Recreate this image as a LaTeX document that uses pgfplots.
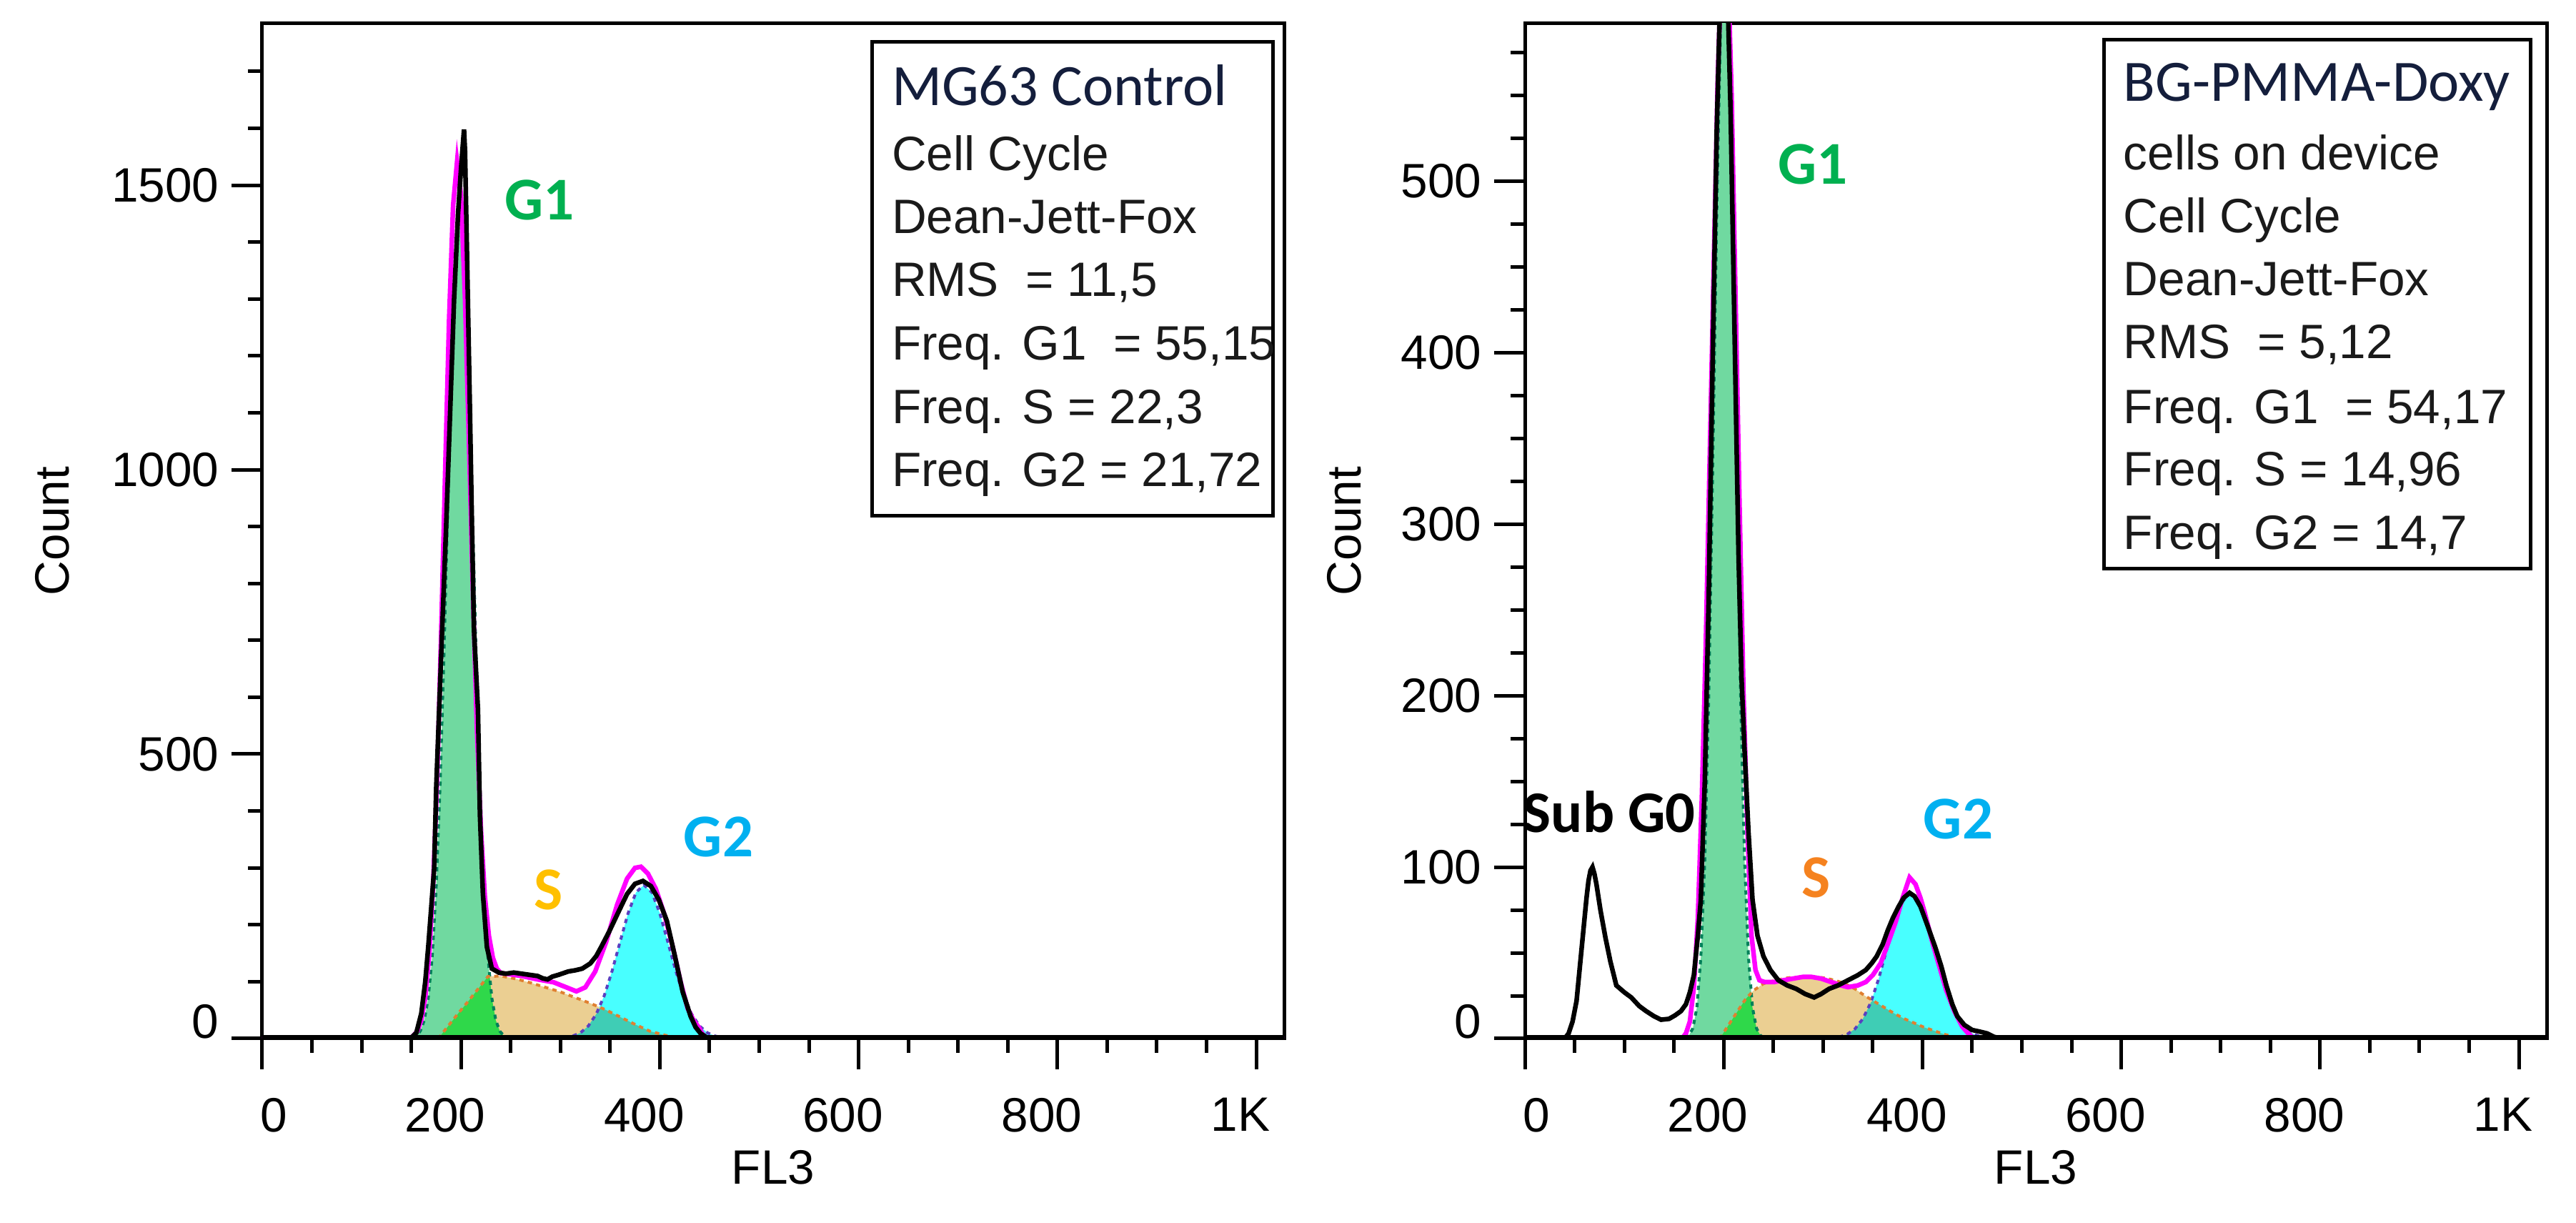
\documentclass[border=0pt]{standalone}
\usepackage{fontspec}
\setmainfont{Liberation Sans}
\newfontfamily\calib{Carlito}
\usepackage{pgfplots}
\pgfplotsset{compat=1.18}
\definecolor{gone}{HTML}{70D9A0}
\definecolor{sfill}{HTML}{EBCF92}
\definecolor{ovg}{HTML}{2FD84A}
\definecolor{gtwo}{HTML}{48FFFF}
\definecolor{ovt}{HTML}{3FCDB5}
\definecolor{mag}{HTML}{FF00FF}
\definecolor{lblg}{HTML}{00B050}
\definecolor{lbls}{HTML}{FFC000}
\definecolor{lblso}{HTML}{F5821F}
\definecolor{lblb}{HTML}{00B0F0}
\definecolor{ttl}{HTML}{141E3C}
\definecolor{txt}{HTML}{1A1A1A}
\definecolor{gline}{HTML}{00805A}
\definecolor{bline}{HTML}{5A40C0}
\definecolor{sline}{HTML}{E08030}
\newcommand{\tfont}{\fontsize{13.5}{16}\selectfont}
\newcommand{\bfont}{\fontsize{13.5}{16}\selectfont\color{txt}}
\newcommand{\hfont}{\calib\fontsize{16.4}{19}\selectfont\color{ttl}}
\newcommand{\pfont}{\calib\bfseries\fontsize{17}{20}\selectfont}
\pgfplotsset{
  flow/.style={
    scale only axis, width=286pt, height=284pt,
    xmin=0, xmax=1028, ymin=0,
    axis line style={line width=1pt},
    tick style={line width=1pt, black},
    tick align=outside,
    major tick length=8.6pt, minor tick length=4pt,
    xtick={0,200,400,600,800,1000},
    xticklabels={\hspace*{15.4pt}0,200,400,600,800,1K},
    minor xtick={50,100,...,1000},
    xtick pos=bottom, ytick pos=left,
    tick label style={font=\tfont},
    xticklabel style={xshift=-4.4pt, yshift=-4.5pt},
    xlabel={FL3}, ylabel={Count},
    label style={font=\tfont},
    xlabel style={at={(axis description cs:0.5,-0.127)}, anchor=center},
  }
}
\begin{document}
\begin{tikzpicture}
\useasboundingbox (0,0) rectangle (721pt,342.2pt);
% ---------------- LEFT PANEL ----------------
\begin{axis}[flow, at={(73.4pt,51.6pt)}, anchor=south west,
  ymax=1784,
  ytick={0,500,1000,1500},
  yticklabels={\raisebox{4.8pt}[\height][\depth]{0},500,1000,1500},
  minor ytick={100,200,...,1700},
  ylabel style={at={(axis description cs:-0.2056,0.5)}, anchor=center},
]
% G1 fill
\addplot[fill=gone, draw=none] coordinates {(151,1.6) (155,5) (159,13) (163,32) (167,71) (171,144) (175,266) (179,448) (183,686) (187,955) (191,1210) (195,1395) (199,1463) (203,1395) (207,1210) (211,955) (215,686) (219,448) (223,266) (227,144) (231,71) (235,32) (239,13) (243,5) (247,1.6)} \closedcycle;
% G2 fill
\addplot[fill=gtwo, draw=none] coordinates {(304,1.6) (312,4.3) (320,10) (328,22) (336,43) (344,75) (352,119) (360,170) (368,220) (376,257) (384,270) (392,257) (400,220) (408,170) (416,119) (424,75) (432,43) (440,22) (448,10) (456,4.3) (464,1.6)} \closedcycle;
% S fill
\addplot[fill=sfill, draw=none] coordinates {(177,0) (187,22) (197,44) (207,65) (217,87) (227,109) (240,110) (255,105) (270,98) (285,90) (300,82) (315,72) (330,62) (345,51) (360,38) (375,25) (390,13) (405,6) (418,2) (428,0)} \closedcycle;
% overlaps
\addplot[fill=ovg, draw=none] coordinates {(177,0) (187,22) (197,44) (207,65) (217,87) (227,109) (229,107) (231,71) (235,32) (239,13) (243,5) (247,1.6) (250,0)} \closedcycle;
\addplot[fill=ovt, draw=none] coordinates {(304,1.6) (312,4.3) (320,10) (328,22) (336,43) (338,50) (340,54.7) (345,51) (360,38) (375,25) (390,13) (405,6) (418,2) (428,0)} \closedcycle;
% component outlines
\addplot[gline, line width=0.8pt, dash pattern=on 1.2pt off 1.2pt] coordinates {(151,1.6) (155,5) (159,13) (163,32) (167,71) (171,144) (175,266) (179,448) (183,686) (187,955) (191,1210) (195,1395) (199,1463) (203,1395) (207,1210) (211,955) (215,686) (219,448) (223,266) (227,144) (231,71) (235,32) (239,13) (243,5) (247,1.6)};
\addplot[bline, line width=0.8pt, dash pattern=on 1.2pt off 1.2pt] coordinates {(304,1.6) (312,4.3) (320,10) (328,22) (336,43) (344,75) (352,119) (360,170) (368,220) (376,257) (384,270) (392,257) (400,220) (408,170) (416,119) (424,75) (432,43) (440,22) (448,10) (456,4.3) (464,1.6)};
\addplot[sline, line width=0.8pt, dash pattern=on 1.2pt off 1.2pt] coordinates {(177,0) (187,22) (197,44) (207,65) (217,87) (227,109) (240,110) (255,105) (270,98) (285,90) (300,82) (315,72) (330,62) (345,51) (360,38) (375,25) (390,13) (405,6) (418,2) (428,0)};
% model fit (magenta)
\addplot[mag, line width=1.3pt] coordinates {(0,0) (148,0) (152,5) (156,13) (160,32) (164,72) (168,147) (172,273) (176,459) (180,711) (184,995) (188,1265) (192,1464) (196,1541) (200,1481) (204,1300) (208,1047) (212,780) (216,544) (220,367) (224,249) (228,181) (232,142) (236,123) (240,115) (245,114) (261,110) (277,104) (293,99) (306,90) (316,83) (325,90) (335,118) (346,170) (357,235) (367,281) (375,300) (381,302) (388,290) (396,263) (405,216) (413,161) (421,99) (428,53) (434,32) (439,20) (443,8) (447,0) (1028,0)};
% data (black)
\addplot[black, line width=1.3pt] coordinates {(0,0) (149,0) (155,10) (160,44) (164,100) (167,161) (170,230) (173,300) (175,440) (178,579) (181,719) (185,900) (189,1100) (193,1300) (197,1450) (200,1530) (203,1598) (204,1560) (206,1380) (209,1100) (211,900) (213,719) (217,579) (219,393) (222,254) (226,161) (231,123) (238,116) (245,114) (253,116) (261,114) (269,112) (277,110) (282,106) (287,104) (292,109) (298,112) (308,118) (315,120) (322,123) (330,132) (336,145) (341,161) (349,188) (359,225) (367,254) (375,272) (383,277) (391,268) (399,244) (407,207) (415,146) (423,82) (431,39) (436,20) (441,9) (449,0) (1028,0)};
\addplot[black, line width=2pt] coordinates {(0,0) (1028,0)};
% phase labels
\node[font=\pfont, text=lblg] at (axis cs:279,1474) {G1};
\node[font=\pfont, text=lbls] at (axis cs:288,261) {S};
\node[font=\pfont, text=lblb] at (axis cs:459,354) {G2};
% info box
\draw[line width=1pt] (rel axis cs:0.597,0.982) rectangle (rel axis cs:0.989,0.515);
\node[anchor=base west, inner sep=0pt, font=\hfont] at (rel axis cs:0.6154,0.9197) {MG63 Control};
\node[anchor=base west, inner sep=0pt, font=\bfont] at (rel axis cs:0.6154,0.8556) {Cell Cycle};
\node[anchor=base west, inner sep=0pt, font=\bfont] at (rel axis cs:0.6154,0.7933) {Dean-Jett-Fox};
\node[anchor=base west, inner sep=0pt, font=\bfont] at (rel axis cs:0.6154,0.7310) {RMS\ \ = 11,5};
\node[anchor=base west, inner sep=0pt, font=\bfont] at (rel axis cs:0.6154,0.6687) {Freq. G1\ \ = 55,15};
\node[anchor=base west, inner sep=0pt, font=\bfont] at (rel axis cs:0.6154,0.6063) {Freq. S = 22,3};
\node[anchor=base west, inner sep=0pt, font=\bfont] at (rel axis cs:0.6154,0.5440) {Freq. G2\ = 21,72};
\end{axis}
% ---------------- RIGHT PANEL ----------------
\begin{axis}[flow, at={(426.8pt,51.6pt)}, anchor=south west,
  ymax=592,
  ytick={0,100,200,300,400,500},
  yticklabels={\raisebox{4.8pt}[\height][\depth]{0},100,200,300,400,500},
  minor ytick={25,50,...,575},
  ylabel style={at={(axis description cs:-0.177,0.5)}, anchor=center},
]
\addplot[fill=gone, draw=none] coordinates {(161,0.5) (165,1.8) (169,6) (173,18) (177,47) (181,104) (185,200) (189,333) (193,479) (197,595) (201,640) (205,595) (209,479) (213,333) (217,200) (221,104) (225,47) (229,18) (233,6) (237,1.8) (241,0.5)} \closedcycle;
\addplot[fill=gtwo, draw=none] coordinates {(316,0.9) (324,2.4) (332,5.6) (340,11.5) (348,21) (356,35) (364,52) (372,68) (380,80) (388,85) (396,80) (404,68) (412,52) (420,35) (428,21) (436,11.5) (444,5.6) (452,2.4) (460,0.9)} \closedcycle;
\addplot[fill=sfill, draw=none] coordinates {(196,0) (205,8) (214,16) (222,23) (230,28) (240,32) (252,34) (265,35.5) (280,36) (290,36) (300,35.5) (312,34) (322,32) (332,29) (342,25) (352,21.5) (362,18) (372,14.5) (382,11.5) (392,9) (402,6.5) (412,4.5) (422,2.5) (432,1) (440,0)} \closedcycle;
\addplot[fill=ovg, draw=none] coordinates {(196,0) (205,8) (214,16) (222,23) (225,24.9) (227,26.1) (229,18) (233,6) (237,1.8) (241,0.5) (244,0)} \closedcycle;
\addplot[fill=ovt, draw=none] coordinates {(316,0.9) (324,2.4) (332,5.6) (340,11.5) (348,21) (350,22.2) (352,21.5) (362,18) (372,14.5) (382,11.5) (392,9) (402,6.5) (412,4.5) (422,2.5) (432,1) (440,0)} \closedcycle;
\addplot[gline, line width=0.8pt, dash pattern=on 1.2pt off 1.2pt] coordinates {(161,0.5) (165,1.8) (169,6) (173,18) (177,47) (181,104) (185,200) (189,333) (193,479) (197,595) (201,640) (205,595) (209,479) (213,333) (217,200) (221,104) (225,47) (229,18) (233,6) (237,1.8) (241,0.5)};
\addplot[bline, line width=0.8pt, dash pattern=on 1.2pt off 1.2pt] coordinates {(316,0.9) (324,2.4) (332,5.6) (340,11.5) (348,21) (356,35) (364,52) (372,68) (380,80) (388,85) (396,80) (404,68) (412,52) (420,35) (428,21) (436,11.5) (444,5.6) (452,2.4) (460,0.9)};
\addplot[sline, line width=0.8pt, dash pattern=on 1.2pt off 1.2pt] coordinates {(196,0) (205,8) (214,16) (222,23) (230,28) (240,32) (252,34) (265,35.5) (280,36) (290,36) (300,35.5) (312,34) (322,32) (332,29) (342,25) (352,21.5) (362,18) (372,14.5) (382,11.5) (392,9) (402,6.5) (412,4.5) (422,2.5) (432,1) (440,0)};
\addplot[mag, line width=1.3pt] coordinates {(0,0) (158,0) (162,3) (166,10) (170,30) (174,70) (178,140) (182,230) (186,340) (190,450) (194,560) (198,630) (201,650) (204,630) (208,550) (212,430) (216,310) (220,200) (224,120) (228,60) (232,40) (236,34) (241,33) (251,33) (260,34) (270,35) (280,36) (288,36) (298,35) (308,33) (318,31) (325,30) (335,31) (343,33) (350,37) (358,44) (365,55) (373,68) (380,82) (387,94) (393,90) (398,82) (402,74) (410,56) (417,42) (424,28) (432,16) (440,7) (446,3) (452,0) (1028,0)};
\addplot[black, line width=1.3pt] coordinates {(0,0) (40,0) (44,3) (48,10) (52,22) (55,40) (58,58) (60,70) (62,82) (64,92) (66,98) (68,100) (70,96) (72,90) (76,75) (81,59) (86,45) (92,31) (100,27) (107,24) (115,19) (122,16) (130,13) (137,11) (145,11.5) (151,13.5) (157,16) (162,20) (166,27) (170,37) (174,60) (177,81) (181,150) (185,260) (189,400) (193,530) (197,620) (200,660) (203,630) (207,540) (211,410) (215,280) (218,210) (221,168) (225,120) (229,81) (234,60) (240,48) (247,40) (255,34) (264,31) (273,29) (282,26) (291,24) (298,26) (306,29) (315,31) (325,34) (335,37) (343,40) (349,44) (354,48) (360,55) (365,63) (370,70) (376,77) (381,82) (387,85) (392,83) (398,77) (405,66) (413,53) (419,42) (424,31) (430,20) (435,13) (442,8) (450,5) (458,4) (465,3) (472,1) (480,0) (1028,0)};
\addplot[black, line width=2pt] coordinates {(0,0) (1028,0)};
\node[font=\pfont, text=lblg] at (axis cs:290,510) {G1};
\node[font=\pfont, text=lblso] at (axis cs:293,94) {S};
\node[font=\pfont, text=lblb] at (axis cs:436,128) {G2};
\node[font=\calib\bfseries\fontsize{16.5}{20}\selectfont, text=black] at (axis cs:85,132) {Sub G0};
\draw[line width=1pt] (rel axis cs:0.567,0.984) rectangle (rel axis cs:0.984,0.463);
\node[anchor=base west, inner sep=0pt, font=\hfont] at (rel axis cs:0.5853,0.9239) {BG-PMMA-Doxy};
\node[anchor=base west, inner sep=0pt, font=\bfont] at (rel axis cs:0.5853,0.8556) {cells on device};
\node[anchor=base west, inner sep=0pt, font=\bfont] at (rel axis cs:0.5853,0.7937) {Cell Cycle};
\node[anchor=base west, inner sep=0pt, font=\bfont] at (rel axis cs:0.5853,0.7317) {Dean-Jett-Fox};
\node[anchor=base west, inner sep=0pt, font=\bfont] at (rel axis cs:0.5853,0.6697) {RMS\ \ = 5,12};
\node[anchor=base west, inner sep=0pt, font=\bfont] at (rel axis cs:0.5853,0.6063) {Freq. G1\ \ = 54,17};
\node[anchor=base west, inner sep=0pt, font=\bfont] at (rel axis cs:0.5853,0.5444) {Freq. S = 14,96};
\node[anchor=base west, inner sep=0pt, font=\bfont] at (rel axis cs:0.5853,0.4817) {Freq. G2\ = 14,7};
\end{axis}
\end{tikzpicture}
\end{document}
